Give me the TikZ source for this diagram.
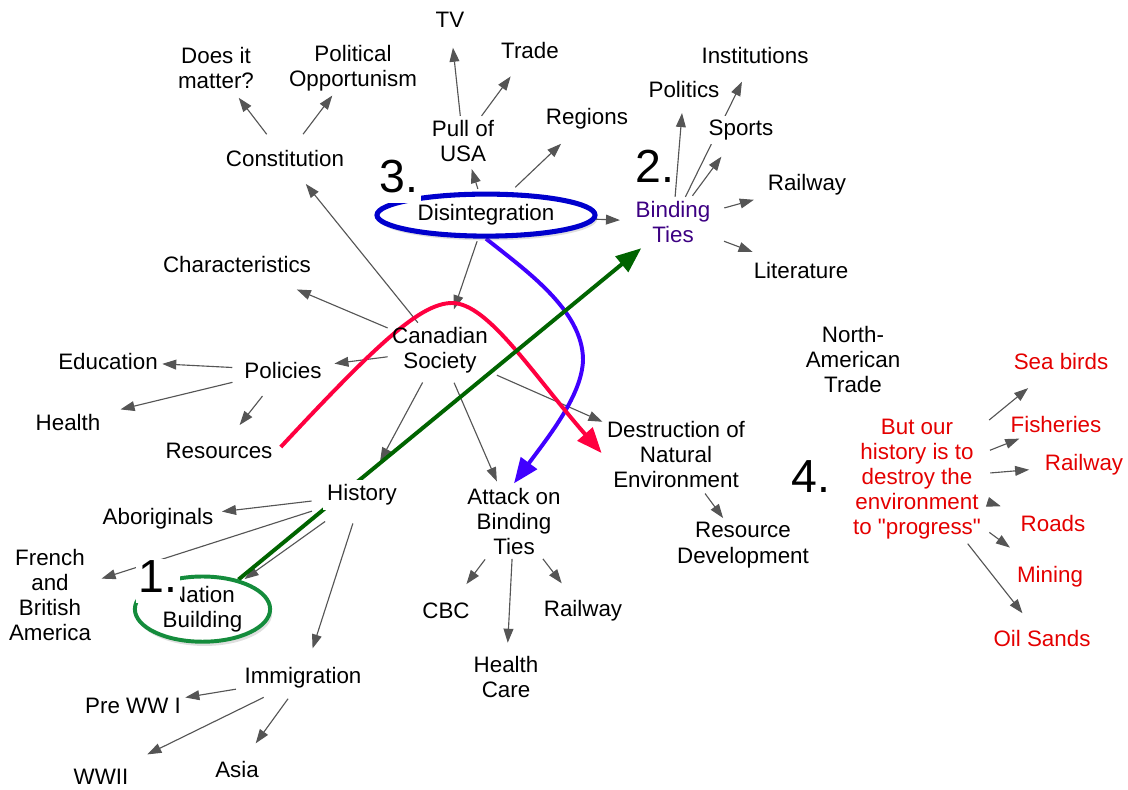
\documentclass[tikz,border=0pt]{standalone}
\usepackage{fontspec}
\setmainfont{Liberation Sans}[Ligatures=TeXOff]
\usetikzlibrary{arrows.meta, shapes.geometric, shadows}
\definecolor{linkgray}{RGB}{85,85,85}
\definecolor{redtext}{RGB}{228,0,0}
\definecolor{bindpurple}{RGB}{60,0,130}
\definecolor{ringblue}{RGB}{0,0,205}
\definecolor{ringgreen}{RGB}{20,140,60}
\definecolor{arrowgreen}{RGB}{0,100,0}
\definecolor{arrowred}{RGB}{255,0,64}
\definecolor{arrowblue}{RGB}{64,0,255}
\pgfdeclarelayer{bg}
\pgfsetlayers{bg,main}
\tikzset{
  concept/.style={align=center, inner sep=3pt, yshift=-1.5pt, font=\fontsize{15.9}{17.8}\selectfont},
  numlabel/.style={font=\fontsize{33}{36}\selectfont, anchor=base, inner xsep=2pt, inner ysep=1pt, text depth=7pt},
  ring/.style={ellipse, inner sep=0pt, fill=white, drop shadow={shadow xshift=1.5pt, shadow yshift=-3pt, opacity=0.25}},
  link/.style={draw=linkgray, line width=0.8pt, -{Triangle[length=10pt,width=7pt]}},
  bigarrow/.style={line width=2.8pt, -{Triangle[length=18pt,width=14pt]}}
}

\begin{document}
\begin{tikzpicture}[x=0.025cm, y=-0.025cm]
    \useasboundingbox (0,0) rectangle (1128,789);
    % top part
    \node[concept] (tv) at (450,18) {TV};
    \node[concept] (trade) at (530,48) {Trade};
    \node[concept] (doesit) at (216,66) {Does it\\matter?};
    \node[concept] (polopp) at (353,66) {Political\\Opportunism};
    \node[concept] (inst) at (755,53) {Institutions};
    \node[concept] (pull) at (463,139) {Pull of\\USA};
    \node[concept] (regions) at (587,117) {Regions};
    \node[concept] (politics) at (684,87) {Politics};
    \node[concept, fill=white] (sports) at (741,128) {Sports};
    \node[concept] (const) at (285,156) {Constitution};
    \node[concept, ring, draw=ringblue, line width=3.6pt, minimum width=5.45cm, minimum height=1.05cm] (disint) at (486,213) {Disintegration};
    \node[concept, text=bindpurple] (bt) at (673,220) {Binding\\Ties};
    \node[concept] (railtop) at (807,183) {Railway};
    \node[concept] (lit) at (801,268) {Literature};
    % middle part
    \node[concept] (charac) at (237,262) {Characteristics};
    \node[concept] (cansoc) at (440,348) {Canadian\\Society};
    \node[concept] (edu) at (108,359) {Education};
    \node[concept] (policies) at (283,368) {Policies};
    \node[concept] (health) at (68,420) {Health};
    \node[concept] (resources) at (219,449) {Resources};
    \node[concept] (destr) at (676,452) {Destruction of\\Natural\\Environment};
    \node[concept] (resdev) at (743,543) {Resource\\Development};
    \node[concept] (natrade) at (853,357) {North-\\American\\Trade};
    % right part
    \node[concept, text=redtext] (progress) at (917,477) {But our\\history is to\\destroy the\\environment\\to "progress"};
    \foreach \n/\x/\y/\t in {seabirds/1061/359/Sea birds, fisheries/1056/422/Fisheries,
        railright/1084/463/Railway, roads/1053/521/Roads, mining/1050/575/Mining,
        oilsands/1042/636/Oil Sands}
        \node[concept, text=redtext] (\n) at (\x,\y) {\t};
    % bottom part
    \node[concept, fill=white] (history) at (362,493) {History};
    \node[concept] (attack) at (514,519) {Attack on\\Binding\\Ties};
    \node[concept] (abor) at (158,517) {Aboriginals};
    \node[concept] (french) at (50,593) {French\\and\\British\\America};
    \node[concept, ring, draw=ringgreen, line width=2.8pt, minimum width=3.38cm, minimum height=1.63cm] (nation) at (202.5,607) {Nation\\Building};
    \node[concept] (cbc) at (446,609) {CBC};
    \node[concept] (railbot) at (583,609) {Railway};
    \node[concept] (healthcare) at (506,675) {Health\\Care};
    \node[concept] (immig) at (303,676) {Immigration};
    \node[concept] (preww) at (133,704) {Pre WW I};
    \node[concept] (asia) at (237,767) {Asia};
    \node[concept] (wwii) at (101,775) {WWII};
    % numbers
    \node[numlabel, fill=white] (three) at (399,192) {3.};
    \node[numlabel] (two) at (655,182) {2.};
    \node[numlabel, fill=white] (one) at (158,592) {1.};
    \node[numlabel] (four) at (811,492) {4.};
    \coordinate (redtop) at (452,303);
    \coordinate (bluebend) at (583,360);

    \begin{pgfonlayer}{bg}
        \foreach \a/\b/\s/\e in {const/doesit/10pt/4pt, const/polopp/10pt/0pt,
            pull/tv/0pt/11pt, pull/trade/0pt/12pt,
            disint/pull/2pt/2pt, disint/regions/5pt/10pt, disint/bt/0pt/8pt, disint/cansoc/2pt/10pt,
            cansoc/const/0pt/12pt, cansoc/charac/0pt/23pt, cansoc/policies/0pt/6pt,
            cansoc/history/4pt/15pt, cansoc/attack/4pt/1.5pt, cansoc/destr/3.5pt/0pt,
            policies/edu/5.5pt/0pt, policies/health/5.5pt/11.5pt, policies/resources/12pt/12.5pt,
            history/abor/8pt/3pt, history/french/8pt/4.5pt, history/nation/14pt/2pt, history/immig/10pt/11pt,
            destr/resdev/1.5pt/0pt,
            attack/cbc/0.5pt/13pt, attack/healthcare/0pt/6.5pt, attack/railbot/0pt/11.5pt,
            immig/preww/3pt/0pt, immig/wwii/7pt/17pt, immig/asia/5pt/11.5pt,
            bt/politics/0pt/8pt, bt/inst/0pt/11pt, bt/sports/1pt/10.5pt, bt/railtop/7pt/7pt, bt/lit/7pt/11pt,
            progress/seabirds/3.5pt/16pt, progress/fisheries/3.5pt/3.5pt, progress/railright/3.5pt/8pt,
            progress/roads/3.5pt/11.5pt, progress/mining/3.5pt/17.5pt, progress/oilsands/0pt/11pt}
            \draw[link, shorten <=\s, shorten >=\e] (\a) -- (\b);
        % the three big arrows
        \draw[bigarrow, arrowblue] (disint.south) .. controls (525,270) and (583,310) .. (bluebend)
            .. controls (582,395) and (549,436) .. (attack.north);
        \draw[bigarrow, arrowred, shorten <=4pt, shorten >=1pt] (resources.east) .. controls +(98,-105) and (420,303) .. (redtop)
            .. controls (488,303) and +(-70,-80) .. (destr.west);
        \draw[bigarrow, arrowgreen, shorten >=1pt] (nation) -- (bt);
    \end{pgfonlayer}
\end{tikzpicture}
\end{document}
